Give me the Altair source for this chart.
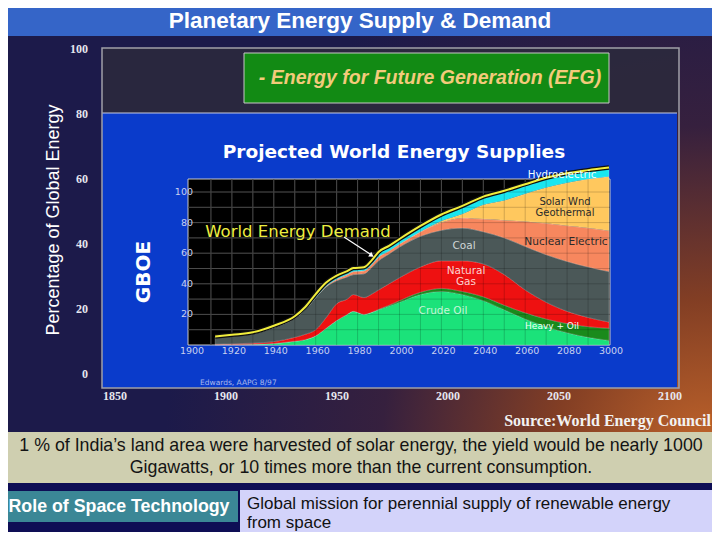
import altair as alt
import pandas as pd

# ---------------- data ----------------
years = [1912, 1920, 1930, 1940, 1950, 1955, 1960, 1965, 1970, 1975, 1978, 1983, 1987,
         1990, 1995, 2000, 2010, 2020, 2030, 2040, 2050, 2060, 2070, 2080, 2090, 2100]
crude_oil = [0.2, 0.3, 0.5, 1, 2.5, 3.5, 6, 11, 16, 20, 22, 20, 21.5,
             23, 25.5, 28, 33, 35, 33, 29, 23, 17, 12, 8, 5, 3]
heavy_oil = [0, 0, 0, 0, 0, 0, 0, 0, 0, 0, 0, 0, 0,
             0.3, 0.5, 1, 1.5, 2, 2, 2.5, 3, 4, 5, 6, 7, 8]
natural_gas = [0.3, 0.5, 0.7, 1.2, 2.5, 3.5, 4, 7, 11, 10, 11, 11, 12,
               12.7, 14, 15, 16.5, 18, 20, 21.5, 20, 15, 11, 8, 6, 4]
coal = [4.5, 5.2, 6.3, 9.3, 12.5, 16, 21, 20, 15, 14.5, 13, 15.5, 17.5,
        19, 19.5, 20, 20, 20, 21.4, 21, 24, 28.4, 31, 32.6, 33, 33]
nuclear = [0, 0, 0, 0, 0, 0, 0, 0.5, 1, 1.5, 2, 2, 2,
           2.5, 2, 2, 3, 5, 6.6, 8.3, 11.5, 16.4, 20.5, 23.4, 25.5, 26.7]
solar_wind_geo = [0, 0, 0, 0, 0, 0, 0, 0, 0, 0, 0, 0, 0,
                  0, 0, 0, 0, 1, 2.6, 9.4, 13, 18, 23.5, 28, 32, 35.5]
hydro = [0.3, 0.4, 0.5, 0.8, 1, 1.5, 2, 2, 2, 2, 2, 2, 2.5,
         3, 3, 3, 3.5, 4, 5, 5, 6, 6, 6, 6, 5.5, 5.5]
demand = [5.6, 6.7, 8.3, 12.6, 18.8, 24.8, 33.3, 40.8, 45.3, 48.3, 50.3, 50.8, 55.8,
          60.8, 64.8, 69.3, 77.8, 85.3, 90.9, 97, 100.8, 105.1, 109.3, 112.3, 114.3, 116]

series_names = ["Crude Oil", "Heavy + Oil", "Natural Gas", "Coal",
                "Nuclear Electric", "Solar Wnd Geothermal", "Hydroelectric"]
series_values = [crude_oil, heavy_oil, natural_gas, coal, nuclear, solar_wind_geo, hydro]
series_colors = ["#1be27a", "#1a8a1c", "#ee1111", "#4b5858",
                 "#f7875e", "#ffc85e", "#1ae6ef"]

outer_y_ticks = [0, 20, 40, 60, 80, 100]
outer_y_labels = ["0", "20", "40", "60", "80", "100"]
outer_x_ticks = [1850, 1900, 1950, 2000, 2050, 2100]
outer_x_labels = ["1850", "1900", "1950", "2000", "2050", "2100"]
inner_y_ticks = [20, 40, 60, 80, 100]
inner_y_labels = ["20", "40", "60", "80", "100"]
inner_x_ticks = [1900, 1920, 1940, 1960, 1980, 2000, 2020, 2040, 2060, 2080, 2100]
inner_x_labels = ["1900", "1920", "1940", "1960", "1980", "2000", "2020", "2040",
                  "2060", "2080", "3000"]
grid_years = [1910, 1920, 1930, 1940, 1950, 1960, 1970, 1980, 1990, 2000,
              2010, 2020, 2030, 2040, 2050, 2060, 2070, 2080, 2090]
grid_values = [10, 20, 30, 40, 50, 60, 70, 80, 90, 100]

# ---------------- tables ----------------
rows = []
for rank, (name, vals) in enumerate(zip(series_names, series_values)):
    for yr, v in zip(years, vals):
        rows.append({"year": yr, "value": v, "series": name, "rank": rank})
df_stack = pd.DataFrame(rows)
df_demand = pd.DataFrame({"year": years, "demand": demand})
one = pd.DataFrame({"k": [0]})

# ---------------- layout helpers (page offset 8px) ----------------
OFF = 8


def p(v):
    return v - OFF


IX = alt.Scale(domain=[1900, 2100], range=[p(190), p(609)], nice=False, zero=False)
IY = alt.Scale(domain=[0, 100], range=[p(345), p(192)], nice=False)
OX = alt.Scale(domain=[1850, 2100], range=[p(115), p(670)], nice=False, zero=False)
OY = alt.Scale(domain=[0, 100], range=[p(374), p(49)], nice=False)

SANS = "Liberation Sans"
WIDE = "DejaVu Sans"
SERIF = "Liberation Serif"


def rect(x1, y1, x2, y2, **kw):
    return alt.Chart(one).mark_rect(**kw).encode(
        x=alt.value(p(x1)), x2=alt.value(p(x2)), y=alt.value(p(y1)), y2=alt.value(p(y2)))


def label(s, x, y, **kw):
    return alt.Chart(one).mark_text(text=s, **kw).encode(x=alt.value(p(x)), y=alt.value(p(y)))


layers = []

# slide background
layers.append(rect(0, 36, 720, 432, color={
    "gradient": "radial",
    "x1": 0.98, "y1": 0.8, "r1": 0,
    "x2": 0.98, "y2": 0.8, "r2": 0.75,
    "stops": [
        {"offset": 0, "color": "#c0642a"},
        {"offset": 0.28, "color": "#823e24"},
        {"offset": 0.6, "color": "#36203e"},
        {"offset": 1, "color": "#1c1a4a"},
    ]}))

# title bar
layers.append(rect(0, 0, 720, 36, color="#3565c8"))
layers.append(label("Planetary Energy Supply & Demand", 360, 21, font=SANS, fontSize=22.5,
                    fontWeight="bold", color="white", align="center", baseline="middle"))

# outer frame, photo strip and blue panel
layers.append(rect(102, 48, 679, 113, color="#2c2a3c", opacity=0.85))
layers.append(rect(102, 113, 677, 388, color="#0a3bcb"))
layers.append(alt.Chart(one).mark_rule(color="#c8cce0", strokeWidth=1.2).encode(
    x=alt.value(p(102)), x2=alt.value(p(677)), y=alt.value(p(113))))
layers.append(rect(102, 48, 679, 388, fillOpacity=0, stroke="#a0a0a8", strokeWidth=1.5))

# green box
layers.append(rect(244, 53, 609, 103, color="#128a14", stroke="#c8c8c8", strokeWidth=1))
layers.append(label("- Energy for Future Generation (EFG)", 430, 78, font=SANS, fontSize=19.5,
                    fontWeight="bold", fontStyle="italic", color="#f3cb7a",
                    align="center", baseline="middle"))

# outer axes
layers.append(alt.Chart(pd.DataFrame({"t": outer_y_ticks, "lab": outer_y_labels})).mark_text(
    align="right", baseline="middle", font=SERIF, fontWeight="bold", fontSize=12,
    color="#e6e6ee").encode(
    y=alt.Y("t:Q", scale=OY, axis=None), x=alt.value(p(88)), text="lab:N"))
layers.append(alt.Chart(pd.DataFrame({"t": outer_x_ticks, "lab": outer_x_labels})).mark_text(
    align="center", baseline="middle", font=SERIF, fontWeight="bold", fontSize=12,
    color="#e6e6ee").encode(
    x=alt.X("t:Q", scale=OX, axis=None), y=alt.value(p(396)), text="lab:N"))
layers.append(label("Percentage of Global Energy", 54, 220, font=SANS, fontSize=18,
                    color="white", angle=270, align="center", baseline="middle"))

# inner chart titles
layers.append(label("Projected World Energy Supplies", 394, 152, font=WIDE, fontSize=18.5,
                    fontWeight="bold", color="white", align="center", baseline="middle"))
layers.append(label("GBOE", 144, 272, font=WIDE, fontSize=20, fontWeight="bold",
                    color="white", angle=270, align="center", baseline="middle"))

# inner plot background
layers.append(rect(188, 179, 610, 345, color="black", stroke="#c8c8c8", strokeWidth=1))

# grid (behind)
layers.append(alt.Chart(pd.DataFrame({"g": grid_years})).mark_rule(
    color="#5c5c5c", strokeWidth=1).encode(
    x=alt.X("g:Q", scale=IX, axis=None), y=alt.value(p(179)), y2=alt.value(p(345))))
layers.append(alt.Chart(pd.DataFrame({"g": grid_values})).mark_rule(
    color="#5c5c5c", strokeWidth=1).encode(
    y=alt.Y("g:Q", scale=IY, axis=None), x=alt.value(p(188)), x2=alt.value(p(610))))

# stacked areas
layers.append(alt.Chart(df_stack).mark_area(
    interpolate="monotone", stroke="#e8e8e8", strokeWidth=0.5, strokeOpacity=0.45).encode(
    x=alt.X("year:Q", scale=IX, axis=None),
    y=alt.Y("value:Q", stack="zero", scale=IY, axis=None),
    color=alt.Color("series:N", scale=alt.Scale(domain=series_names, range=series_colors),
                    legend=None),
    order=alt.Order("rank:Q", sort="ascending")))

# grid (faint overlay)
layers.append(alt.Chart(pd.DataFrame({"g": grid_years})).mark_rule(
    color="black", strokeWidth=1, opacity=0.18).encode(
    x=alt.X("g:Q", scale=IX, axis=None), y=alt.value(p(179)), y2=alt.value(p(345))))
layers.append(alt.Chart(pd.DataFrame({"g": grid_values})).mark_rule(
    color="black", strokeWidth=1, opacity=0.18).encode(
    y=alt.Y("g:Q", scale=IY, axis=None), x=alt.value(p(188)), x2=alt.value(p(610))))

# demand line
layers.append(alt.Chart(df_demand).mark_line(
    interpolate="monotone", color="#101010", strokeWidth=4.5).encode(
    x=alt.X("year:Q", scale=IX, axis=None), y=alt.Y("demand:Q", scale=IY, axis=None)))
layers.append(alt.Chart(df_demand).mark_line(
    interpolate="monotone", color="#f2ee3c", strokeWidth=2).encode(
    x=alt.X("year:Q", scale=IX, axis=None), y=alt.Y("demand:Q", scale=IY, axis=None)))

# annotations
layers.append(label("World Energy Demand", 298, 232, font=WIDE, fontSize=16.5,
                    color="#eeee40", align="center", baseline="middle"))
layers.append(alt.Chart(one).mark_rule(color="white", strokeWidth=1.2).encode(
    x=alt.value(p(344)), y=alt.value(p(237)), x2=alt.value(p(370)), y2=alt.value(p(254))))
layers.append(alt.Chart(one).mark_point(shape="triangle", filled=True, color="white",
                                        size=30, angle=124, opacity=1).encode(
    x=alt.value(p(371)), y=alt.value(p(255))))
layers.append(label("Hydroelectric", 562, 175, font=WIDE, fontSize=10.3, color="#f0ffff",
                    align="center", baseline="middle"))
layers.append(label(["Solar Wnd", "Geothermal"], 565, 202, font=WIDE, fontSize=10,
                    color="#2a2a2a", align="center", baseline="middle", lineHeight=11))
layers.append(label("Nuclear Electric", 566, 242, font=WIDE, fontSize=10.6, color="#2a2a2a",
                    align="center", baseline="middle"))
layers.append(label("Coal", 464, 246, font=WIDE, fontSize=10.5, color="#cfd6d6",
                    align="center", baseline="middle"))
layers.append(label(["Natural", "Gas"], 466, 271, font=WIDE, fontSize=10.5, color="#ffd0d0",
                    align="center", baseline="middle", lineHeight=10.5))
layers.append(label("Crude Oil", 443, 311, font=WIDE, fontSize=10.5, color="#c8f5d8",
                    align="center", baseline="middle"))
layers.append(label("Heavy + Oil", 552, 326, font=WIDE, fontSize=9, color="#f4fff4",
                    align="center", baseline="middle"))

# inner tick labels
layers.append(alt.Chart(pd.DataFrame({"t": inner_y_ticks, "lab": inner_y_labels})).mark_text(
    align="right", baseline="middle", font=WIDE, fontSize=9.5, color="#c8d0f0").encode(
    y=alt.Y("t:Q", scale=IY, axis=None), x=alt.value(p(193)), text="lab:N"))
layers.append(alt.Chart(pd.DataFrame({"t": inner_x_ticks, "lab": inner_x_labels})).mark_text(
    align="center", baseline="middle", font=WIDE, fontSize=9.5, color="#c8d0f0", dx=2).encode(
    x=alt.X("t:Q", scale=IX, axis=None), y=alt.value(p(351)), text="lab:N"))

layers.append(label("Edwards, AAPG 8/97", 200, 383, font=WIDE, fontSize=7.5, color="#a8b8ec",
                    align="left", baseline="middle"))
layers.append(label("Source:World Energy Council", 711, 421, font=SERIF, fontSize=16,
                    fontWeight="bold", color="#f2f2f2", align="right", baseline="middle"))

# bottom banners
layers.append(rect(0, 432, 720, 483, color="#cfcfb0"))
layers.append(label(["1 % of India\u2019s land area were harvested of solar energy, the yield would be nearly 1000",
                     "Gigawatts, or 10 times more than the current consumption."],
                    361, 446, font=SANS, fontSize=17.8, color="#141414", align="center",
                    baseline="middle", lineHeight=22))
layers.append(rect(0, 491, 238, 522, color="#3b8796"))
layers.append(label("Role of Space Technology", 119, 507, font=SANS, fontSize=17.8,
                    fontWeight="bold", color="white", align="center", baseline="middle"))
layers.append(rect(240, 490, 720, 540, color="#d3d3fa"))
layers.append(label(["Global mission for perennial supply of renewable energy", "from space"],
                    247, 504, font=SANS, fontSize=17, color="#111111", align="left",
                    baseline="middle", lineHeight=19))

chart = alt.layer(*layers).resolve_scale(
    x="independent", y="independent", color="independent"
).properties(
    width=704, height=524, background="#0e0e55", padding=0,
    autosize=alt.AutoSizeParams(type="none")
).configure_view(stroke=None)

chart.save("out.html", embed_options={"renderer": "svg", "actions": False})
